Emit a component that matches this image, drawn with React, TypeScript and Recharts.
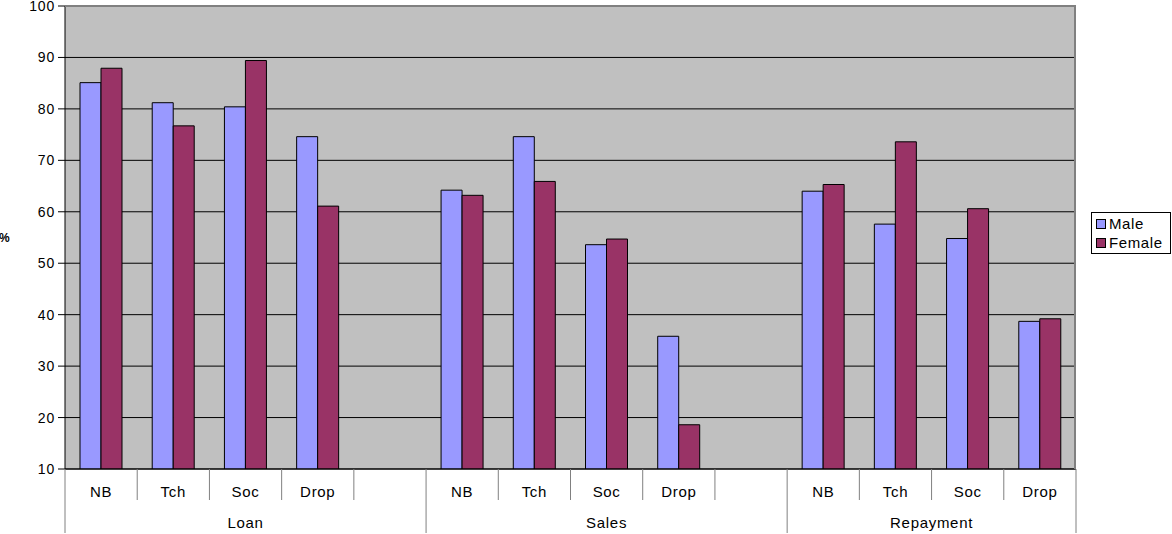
import { Bar, BarChart, CartesianGrid, Legend, XAxis, YAxis } from "recharts"

const groups = ["Loan", "Sales", "Repayment"]
const groupSizes = [5, 5, 4]
const subLabels = ["NB", "Tch", "Soc", "Drop", "", "NB", "Tch", "Soc", "Drop", "", "NB", "Tch", "Soc", "Drop"]
const male = [85.1, 81.2, 80.4, 74.6, null, 64.2, 74.6, 53.6, 35.8, null, 64.0, 57.6, 54.8, 38.7]
const female = [87.9, 76.7, 89.4, 61.1, null, 63.2, 65.9, 54.7, 18.6, null, 65.3, 73.6, 60.6, 39.2]
const yTicks = [10, 20, 30, 40, 50, 60, 70, 80, 90, 100]

const series = [
  { key: "male", name: "Male", color: "#9999FF" },
  { key: "female", name: "Female", color: "#993366" },
]

const data = subLabels.map((sub, i) => ({ sub, male: male[i], female: female[i] }))

// index of first category of each group
const groupStarts = groupSizes.map((_, g) => groupSizes.slice(0, g).reduce((a, b) => a + b, 0))

const W = 1172
const H = 534
const M = { top: 6, right: 96, bottom: 0, left: 0 }
const Y_W = 65
const X_H = 65
const half = (W - M.right - Y_W) / subLabels.length / 2

const font = "'Liberation Sans', Arial, sans-serif"

function CategoryTick(props: any) {
  const { x, y, payload } = props
  const idx = payload.index
  const h = payload.offset || half
  const left = x - h
  const top = y - 8
  const g = groupStarts.indexOf(idx)
  const isLast = idx === subLabels.length - 1
  return (
    <g>
      <line x1={left} y1={top} x2={left} y2={top + (g >= 0 ? 64 : 31)} stroke="#808080" />
      {isLast && <line x1={x + h} y1={top} x2={x + h} y2={top + 64} stroke="#808080" />}
      <text
        x={x}
        y={top + 28}
        textAnchor="middle"
        fontSize={15}
        letterSpacing={0.7}
        fontFamily={font}
        fill="#000"
      >
        {payload.value}
      </text>
      {g >= 0 && (
        <text
          x={left + groupSizes[g] * h}
          y={top + 59}
          textAnchor="middle"
          fontSize={15}
          letterSpacing={0.7}
          fontFamily={font}
          fill="#000"
        >
          {groups[g]}
        </text>
      )}
    </g>
  )
}

function LegendBox() {
  return (
    <div
      style={{
        border: "1px solid #000",
        background: "#fff",
        padding: "1px 4px",
        fontFamily: font,
        fontSize: 15,
        letterSpacing: 0.6,
        lineHeight: "19px",
      }}
    >
      {series.map((s) => (
        <div key={s.key} style={{ display: "flex", alignItems: "center" }}>
          <span
            style={{
              display: "inline-block",
              width: 8,
              height: 8,
              background: s.color,
              border: "1px solid #000",
              marginRight: 3,
            }}
          />
          {s.name}
        </div>
      ))}
    </div>
  )
}

export default function App() {
  return (
    <div style={{ position: "absolute", left: 0, top: 0, width: W, height: H, background: "#fff" }}>
      <BarChart width={W} height={H} data={data} margin={M} barCategoryGap={15} barGap={0}>
        <CartesianGrid vertical={false} stroke="#000" fill="#C0C0C0" fillOpacity={1} />
        <XAxis
          dataKey="sub"
          height={X_H}
          interval={0}
          tickLine={false}
          axisLine={{ stroke: "#000" }}
          tick={<CategoryTick />}
        />
        <YAxis
          width={Y_W}
          domain={[10, 100]}
          ticks={yTicks}
          interval={0}
          allowDataOverflow
          tickSize={7}
          tickMargin={3}
          axisLine={{ stroke: "#000" }}
          tickLine={{ stroke: "#000" }}
          tick={{ fontSize: 14, fontFamily: font, fill: "#000", letterSpacing: 0.8 }}
          label={{
            value: "%",
            position: "insideLeft",
            offset: -1,
            fontSize: 12,
            fontWeight: "bold",
            fontFamily: font,
            fill: "#000",
          }}
        />
        <Legend
          layout="horizontal"
          verticalAlign="middle"
          wrapperStyle={{ left: 1091, top: 212, width: 80 }}
          content={() => <LegendBox />}
        />
        {series.map((s) => (
          <Bar
            key={s.key}
            dataKey={s.key}
            name={s.name}
            fill={s.color}
            stroke="#000"
            strokeWidth={1}
            isAnimationActive={false}
          />
        ))}
      </BarChart>
      <div
        style={{
          position: "absolute",
          left: M.left + Y_W,
          top: M.top,
          width: W - M.right - Y_W,
          height: H - M.top - X_H,
          borderTop: "1px solid #808080",
          borderRight: "2px solid #808080",
          boxSizing: "border-box",
          pointerEvents: "none",
        }}
      />
    </div>
  )
}
